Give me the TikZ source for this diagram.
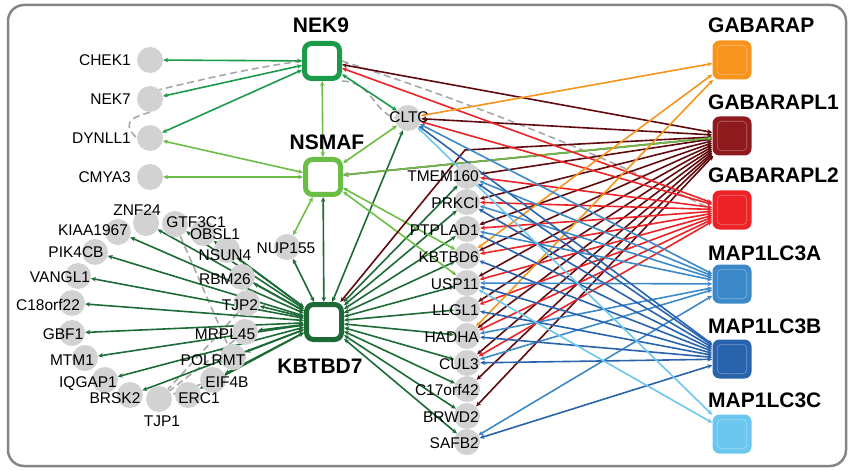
\documentclass[tikz,border=0pt]{standalone}
\usepackage{fontspec}
\setmainfont{Liberation Sans}
\usetikzlibrary{arrows.meta}
\pgfdeclarelayer{edges}
\pgfsetlayers{edges,main}

\definecolor{nekg}{HTML}{1B9A4A}
\definecolor{nsg}{HTML}{6BBE45}
\definecolor{kbg}{HTML}{1C6B36}
\definecolor{gabo}{HTML}{F7941D}
\definecolor{gloneHub}{HTML}{8E1A1E}
\definecolor{glone}{HTML}{5F0B0E}
\definecolor{gltwo}{HTML}{EC2227}
\definecolor{lca}{HTML}{3C89C9}
\definecolor{lcb}{HTML}{2963AE}
\definecolor{lcc}{HTML}{6CC7EF}
\definecolor{preyc}{HTML}{D2D2D2}
\definecolor{knownc}{HTML}{A8A8A8}
\definecolor{framec}{HTML}{858585}

\tikzset{
  prey/.style={circle, fill=preyc, minimum size=26pt, inner sep=0pt},
  lbl/.style={font=\fontsize{15.5}{18}\selectfont, inner sep=0pt, text=black},
  baitlbl/.style={font=\fontsize{21}{24}\selectfont\bfseries, inner sep=0pt},
  ringbait/.style={draw=#1, line width=5pt, fill=white, rounded corners=7pt,
    minimum size=35pt, inner sep=0pt, outer sep=2.5pt},
  fillbait/.style={fill=#1, rounded corners=7pt, minimum size=39pt, inner sep=0pt},
  ppi/.style={draw=#1, line width=1.6pt, >={Stealth[length=5pt,width=4.5pt]}, <->},
  known/.style={draw=knownc, line width=1.6pt, dash pattern=on 7pt off 4pt},
}

\begin{document}
\begin{tikzpicture}[x=1pt,y=-1pt]
\useasboundingbox (0,0) rectangle (850,470);
\draw[framec, line width=2.5pt, rounded corners=16pt] (8,5) rectangle (846,466);

% bait proteins with ring style
\node[ringbait=nekg] (NEK9) at (322,61) {};
\node[ringbait=nsg] (NSMAF) at (323,177) {};
\node[ringbait=kbg] (KBTBD7) at (324,322) {};

% autophagy baits
\foreach \n/\c/\y in {GABARAP/gabo/60, GABARAPL1/gloneHub/136, GABARAPL2/gltwo/210,
                      MAP1LC3A/lca/284, MAP1LC3B/lcb/359, MAP1LC3C/lcc/434}{
  \node[fillbait=\c] (\n) at (732,\y) {};
  \draw[\c!65!white, line width=0.6pt, rounded corners=4pt]
    ([xshift=5pt,yshift=-5pt]\n.north west) rectangle ([xshift=-5pt,yshift=5pt]\n.south east);
}

% prey proteins
\foreach \n/\x/\y in {CHEK1/150/60, NEK7/150/99, DYNLL1/150/138, CMYA3/150/177,
    CLTC/408/118, NUP155/287/247,
    ZNF24/146/223, GTF3C1/175/224, KIAA1967/118/232, OBSL1/203/233,
    PIK4CB/95/252, NSUN4/227/250, RBM26/242/277, VANGL1/78/276,
    TJP2/247/303, C18orf22/72/303, MRPL45/245/332, GBF1/72/333,
    POLRMT/233/357, MTM1/85/358, EIF4B/213/380, IQGAP1/105/380,
    ERC1/188/395, BRSK2/130/395, TJP1/159/399,
    TMEM160/467/176, PRKCI/467/202, PTPLAD1/467/229, KBTBD6/467/256,
    USP11/467/283, LLGL1/467/309, HADHA/467/336, CUL3/467/363,
    C17orf42/467/389, BRWD2/467/416, SAFB2/467/442}{
  \node[prey] (\n) at (\x,\y) {};
}
\coordinate (bendA) at (465,150);

\begin{pgfonlayer}{edges}
  % previously known interactions
  \draw[known] (NEK9.west) .. controls (250,68) and (200,80) .. (NEK7.north east);
  \draw[known] (NEK7.south) .. controls (138,116) and (118,120) .. (DYNLL1.west);
  \draw[known] (NEK9.south east) .. controls (372,82) and (372,110) .. (CLTC.west);
  \draw[known] (NEK9.east) .. controls (450,96) and (600,152) .. (GABARAPL2.west);
  \draw[known] (GTF3C1) -- (POLRMT);
  \draw[known] (TJP2) -- (TJP1);
  \draw[known] (MRPL45) -- (TJP1);
  \draw[known] (EIF4B) -- (TJP1);

  % NEK9
  \foreach \t in {CHEK1,NEK7,DYNLL1,CLTC}
    \draw[ppi=nekg] (NEK9) -- (\t);
  % KBTBD7
  \foreach \t in {NSMAF,NUP155,CLTC,ZNF24,GTF3C1,KIAA1967,OBSL1,NSUN4,PIK4CB,
      RBM26,VANGL1,TJP2,C18orf22,MRPL45,GBF1,POLRMT,MTM1,EIF4B,IQGAP1,ERC1,BRSK2,
      TMEM160,PRKCI,PTPLAD1,KBTBD6,USP11,LLGL1,HADHA,CUL3,C17orf42,BRWD2,SAFB2}
    \draw[ppi=kbg] (KBTBD7) -- (\t);
  % NSMAF
  \foreach \t in {NEK9,DYNLL1,CMYA3,CLTC,NUP155,KBTBD6,USP11}
    \draw[ppi=nsg] (NSMAF) -- (\t);
  % GABARAPL1
  \foreach \t in {NEK9,CLTC,NSMAF,TMEM160,PRKCI,PTPLAD1,KBTBD6,USP11,LLGL1,
      HADHA,CUL3,C17orf42,BRWD2}
    \draw[ppi=glone] (GABARAPL1) -- (\t);
  \draw[ppi=glone] (GABARAPL1) -- (bendA) -- (KBTBD7);
  \draw[ppi=nsg] (NSMAF) -- (GABARAPL1);
  % GABARAPL2
  \foreach \t in {NEK9,CLTC,TMEM160,PRKCI,PTPLAD1,KBTBD6,USP11,LLGL1,HADHA,CUL3}
    \draw[ppi=gltwo] (GABARAPL2) -- (\t);
  % GABARAP
  \foreach \t in {CLTC,KBTBD6,HADHA}
    \draw[ppi=gabo] (GABARAP) -- (\t);
  % MAP1LC3A
  \foreach \t in {CLTC,TMEM160,PRKCI,PTPLAD1,USP11,HADHA,CUL3,SAFB2}
    \draw[ppi=lca] (MAP1LC3A) -- (\t);
  % MAP1LC3B
  \foreach \t in {CLTC,TMEM160,PRKCI,PTPLAD1,KBTBD6,USP11,LLGL1,HADHA,CUL3,SAFB2}
    \draw[ppi=lcb] (MAP1LC3B) -- (\t);
  % MAP1LC3C
  \foreach \t in {CLTC,USP11}
    \draw[ppi=lcc] (MAP1LC3C) -- (\t);
\end{pgfonlayer}

% bait labels
\node[baitlbl, anchor=base] (NEK9-l) at (321,33) {NEK9};
\node[baitlbl, anchor=base] (NSMAF-l) at (327,150) {NSMAF};
\node[baitlbl, anchor=base] (KBTBD7-l) at (320,373) {KBTBD7};
\foreach \n/\y in {GABARAP/33, GABARAPL1/110, GABARAPL2/183,
                   MAP1LC3A/260, MAP1LC3B/333, MAP1LC3C/407}
  \node[baitlbl, anchor=base west] (\n-l) at (708,\y) {\n};

% prey labels
\foreach \n/\x/\y/\a in {CHEK1/131/66/base east, NEK7/131/105/base east,
    DYNLL1/131/144/base east, CMYA3/131/183/base east,
    CLTC/409/123/base, NUP155/286/253/base,
    ZNF24/137/215/base, GTF3C1/196/227/base, KIAA1967/93/236/base,
    OBSL1/215/239/base, PIK4CB/76/257/base, NSUN4/225/260/base,
    RBM26/225/284/base, VANGL1/60/282/base, TJP2/240/310/base,
    C18orf22/48/310/base, MRPL45/225/339/base, GBF1/63/339/base,
    POLRMT/213/365/base, MTM1/72/365/base, EIF4B/227/387/base,
    IQGAP1/88/387/base, ERC1/199/403/base, BRSK2/115/403/base,
    TJP1/162/426/base,
    TMEM160/479/182/base east, PRKCI/479/208/base east,
    PTPLAD1/479/235/base east, KBTBD6/479/262/base east,
    USP11/479/289/base east, LLGL1/479/315/base east,
    HADHA/479/342/base east, CUL3/479/369/base east,
    C17orf42/479/395/base east, BRWD2/479/422/base east,
    SAFB2/479/448/base east}
  \node[lbl, anchor=\a] (\n-l) at (\x,\y) {\n};
\end{tikzpicture}
\end{document}
